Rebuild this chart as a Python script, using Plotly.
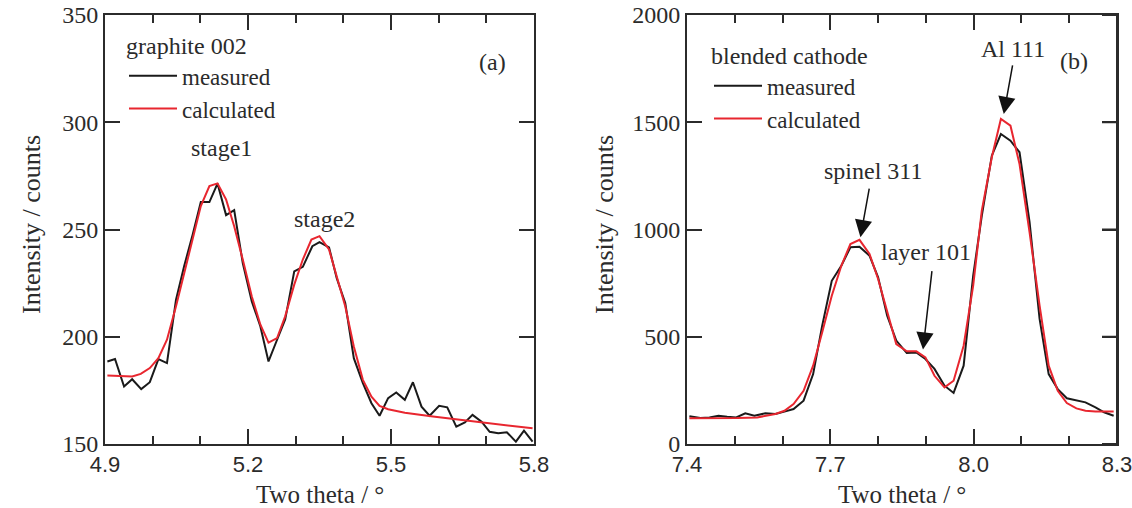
import plotly.graph_objects as go

# (a) graphite 002
xa_meas = [4.905, 4.921, 4.940, 4.957, 4.976, 4.994, 5.012, 5.030, 5.049, 5.066,
           5.084, 5.101, 5.119, 5.136, 5.154, 5.171, 5.189, 5.208, 5.226, 5.243,
           5.261, 5.278, 5.297, 5.315, 5.335, 5.350, 5.370, 5.386, 5.404, 5.422,
           5.441, 5.459, 5.476, 5.494, 5.511, 5.529, 5.546, 5.564, 5.581, 5.601,
           5.618, 5.637, 5.655, 5.671, 5.690, 5.707, 5.725, 5.743, 5.762, 5.779, 5.797]
ya_meas = [188.5, 189.6, 176.8, 180.2, 175.6, 178.8, 189.6, 187.7, 217.3, 232.9,
           247.7, 262.8, 262.8, 271.4, 256.7, 259.0, 234.4, 216.5, 204.8, 188.5,
           198.6, 208.0, 230.5, 232.6, 242.2, 244.1, 241.7, 227.4, 215.7, 190.0,
           178.4, 169.0, 163.2, 171.4, 174.0, 170.6, 178.8, 167.4, 163.2, 167.8,
           167.1, 158.1, 160.1, 163.6, 160.4, 155.7, 155.0, 155.5, 151.1, 156.2, 151.1]
xa_calc = [4.905, 4.957, 4.975, 4.994, 5.012, 5.030, 5.049, 5.066, 5.084, 5.101,
           5.119, 5.136, 5.154, 5.171, 5.189, 5.208, 5.226, 5.243, 5.261, 5.278,
           5.297, 5.315, 5.333, 5.350, 5.370, 5.386, 5.404, 5.422, 5.441, 5.459,
           5.476, 5.494, 5.529, 5.588, 5.658, 5.728, 5.797]
ya_calc = [181.9, 181.5, 182.7, 185.4, 190.0, 198.6, 214.2, 229.8, 246.1, 260.9,
           270.2, 271.5, 264.0, 251.5, 236.0, 218.8, 205.6, 197.3, 199.4, 209.5,
           224.3, 236.0, 245.3, 246.9, 240.7, 228.2, 214.2, 195.5, 179.9, 172.1,
           167.8, 166.2, 164.6, 162.8, 160.9, 159.3, 157.3]

# (b) blended cathode
xb_meas = [7.405, 7.428, 7.447, 7.466, 7.484, 7.503, 7.522, 7.541, 7.564, 7.585,
           7.604, 7.623, 7.644, 7.664, 7.683, 7.703, 7.723, 7.742, 7.761, 7.782,
           7.800, 7.819, 7.838, 7.860, 7.880, 7.899, 7.918, 7.939, 7.958, 7.979,
           7.999, 8.017, 8.038, 8.057, 8.077, 8.096, 8.117, 8.138, 8.157, 8.176,
           8.195, 8.215, 8.234, 8.255, 8.273, 8.293]
yb_meas = [129, 121, 124, 132, 127, 124, 143, 132, 143, 140,
           151, 163, 202, 326, 552, 761, 831, 917, 920, 878,
           777, 598, 482, 424, 427, 396, 350, 272, 238, 365,
           785, 1064, 1344, 1445, 1414, 1360, 1034, 583, 326, 256,
           213, 202, 194, 171, 148, 132]
xb_calc = [7.405, 7.456, 7.505, 7.547, 7.585, 7.604, 7.623, 7.644, 7.664, 7.683,
           7.703, 7.723, 7.742, 7.761, 7.782, 7.800, 7.819, 7.838, 7.860, 7.880,
           7.899, 7.918, 7.939, 7.958, 7.979, 7.999, 8.017, 8.038, 8.057, 8.077,
           8.096, 8.117, 8.138, 8.157, 8.176, 8.195, 8.215, 8.234, 8.255, 8.273, 8.293]
yb_calc = [120, 120, 121, 124, 140, 155, 186, 248, 365, 521,
           691, 831, 932, 952, 886, 769, 614, 466, 432, 432,
           404, 318, 264, 295, 458, 738, 1088, 1337, 1515, 1484,
           1305, 987, 645, 365, 248, 191, 166, 155, 152, 152, 152]

xa_ticks = [4.9, 5.2, 5.5, 5.8]
xb_ticks = [7.4, 7.7, 8.0, 8.3]
ya_ticks = [150, 200, 250, 300, 350]
yb_ticks = [0, 500, 1000, 1500, 2000]

SERIF = "'Liberation Serif', 'Times New Roman', 'DejaVu Serif', serif"
SANS = "'Liberation Sans', Arial, 'DejaVu Sans', sans-serif"
INK = "#2b2b2b"
RED = "#e8262f"

W, H = 1132, 508
T, B = 15, 64
PH = H - T - B  # plot height in px
PW_B = 430      # panel (b) width in px

fig = go.Figure()
fig.add_trace(go.Scatter(x=xa_meas, y=ya_meas, mode="lines", name="measured",
                         line=dict(color="#1a1a1a", width=2), xaxis="x", yaxis="y", legend="legend"))
fig.add_trace(go.Scatter(x=xa_calc, y=ya_calc, mode="lines", name="calculated",
                         line=dict(color=RED, width=2), xaxis="x", yaxis="y", legend="legend"))
fig.add_trace(go.Scatter(x=xb_meas, y=yb_meas, mode="lines", name="measured",
                         line=dict(color="#1a1a1a", width=2), xaxis="x2", yaxis="y2", legend="legend2"))
fig.add_trace(go.Scatter(x=xb_calc, y=yb_calc, mode="lines", name="calculated",
                         line=dict(color=RED, width=2), xaxis="x2", yaxis="y2", legend="legend2"))

def xaxis_style(dom, rng, ticks, anchor):
    return dict(domain=dom, range=rng, anchor=anchor, tickmode="array", tickvals=ticks,
                tickformat=".1f", automargin=False, ticklabeloverflow="allow",
                showline=True, linecolor=INK, linewidth=2, mirror="ticks",
                ticks="inside", ticklen=15, tickwidth=2, tickcolor=INK,
                minor=dict(dtick=0.1, ticks="inside", ticklen=8, tickwidth=1.5,
                           tickcolor=INK, showgrid=False),
                tickfont=dict(family=SANS, size=22, color=INK),
                showgrid=False, zeroline=False)

def yaxis_style(rng, ticks, anchor):
    return dict(domain=[0, 1], range=rng, anchor=anchor, tickmode="array", tickvals=ticks,
                automargin=False, ticklabeloverflow="allow",
                showline=True, linecolor=INK, linewidth=2, mirror="ticks",
                ticks="inside", ticklen=15, tickwidth=2, tickcolor=INK,
                tickfont=dict(family=SERIF, size=24, color=INK),
                showgrid=False, zeroline=False)

leg_font = dict(family=SERIF, size=23, color=INK)
leg_title = dict(family=SERIF, size=24, color=INK)

fig.update_layout(
    width=W, height=H,
    margin=dict(l=0, r=0, t=T, b=B, autoexpand=False),
    paper_bgcolor="white", plot_bgcolor="white",
    font=dict(family=SERIF, color=INK),
    xaxis=xaxis_style([105 / W, 534 / W], [4.9, 5.8], xa_ticks, "y"),
    yaxis=yaxis_style([150, 350], ya_ticks, "x"),
    xaxis2=xaxis_style([687 / W, 1117 / W], [7.4, 8.3], xb_ticks, "y2"),
    yaxis2=yaxis_style([0, 2000], yb_ticks, "x2"),
    legend=dict(x=124 / W, y=1 - 8 / PH, xanchor="left", yanchor="top",
                bgcolor="rgba(0,0,0,0)", font=leg_font, tracegroupgap=0, itemwidth=48,
                title=dict(text="graphite 002", font=leg_title)),
    legend2=dict(x=709 / W, y=1 - 18 / PH, xanchor="left", yanchor="top",
                 bgcolor="rgba(0,0,0,0)", font=leg_font, tracegroupgap=0, itemwidth=48,
                 title=dict(text="blended cathode", font=leg_title)),
)

# right-hand frame of panel (b) with its inward ticks
fig.add_shape(type="line", xref="x2 domain", yref="y2 domain", x0=1, x1=1, y0=0, y1=1,
              line=dict(color=INK, width=2), layer="above")
for v in yb_ticks:
    fig.add_shape(type="line", xref="x2 domain", yref="y2", x0=1 - 15 / PW_B, x1=1,
                  y0=v, y1=v, line=dict(color=INK, width=2), layer="above")

txt = dict(family=SERIF, size=24, color=INK)
notes = [
    dict(text="stage1", x=5.144, y=288, xref="x", yref="y"),
    dict(text="stage2", x=5.36, y=255, xref="x", yref="y"),
    dict(text="(a)", x=5.712, y=328, xref="x", yref="y"),
    dict(text="(b)", x=8.209, y=1786, xref="x2", yref="y2"),
    dict(text="Al 111", x=8.083, y=1841, xref="x2", yref="y2"),
    dict(text="spinel 311", x=7.79, y=1274, xref="x2", yref="y2"),
    dict(text="layer 101", x=7.90, y=894, xref="x2", yref="y2"),
]
for n in notes:
    fig.add_annotation(showarrow=False, font=txt, **n)

# arrows: head (x, y) <- tail (ax, ay)
arrows = [
    (7.763, 964, 7.782, 1197),
    (7.894, 440, 7.913, 813),
    (8.063, 1538, 8.082, 1772),
]
for hx, hy, tx, ty in arrows:
    fig.add_annotation(text="", x=hx, y=hy, ax=tx, ay=ty, xref="x2", yref="y2",
                       axref="x2", ayref="y2", showarrow=True, arrowhead=2,
                       arrowsize=2.3, arrowwidth=1.5, arrowcolor="#111")

# axis titles
for xc in [319.5, 902]:
    fig.add_annotation(text="Two theta / \u00b0", x=xc / W, y=0, xref="paper", yref="paper",
                       xanchor="center", yanchor="middle", yshift=-50, showarrow=False,
                       font=dict(family=SERIF, size=25, color=INK))
for xc in [32, 605]:
    fig.add_annotation(text="Intensity / counts", x=xc / W, y=(444 - 225) / PH,
                       xref="paper", yref="paper", xanchor="center", yanchor="middle",
                       textangle=-90, showarrow=False,
                       font=dict(family=SERIF, size=26, color=INK))

fig.write_html("out.html", config={"displayModeBar": False},
               post_script="document.body.style.margin='0';document.body.style.overflow='hidden';")
